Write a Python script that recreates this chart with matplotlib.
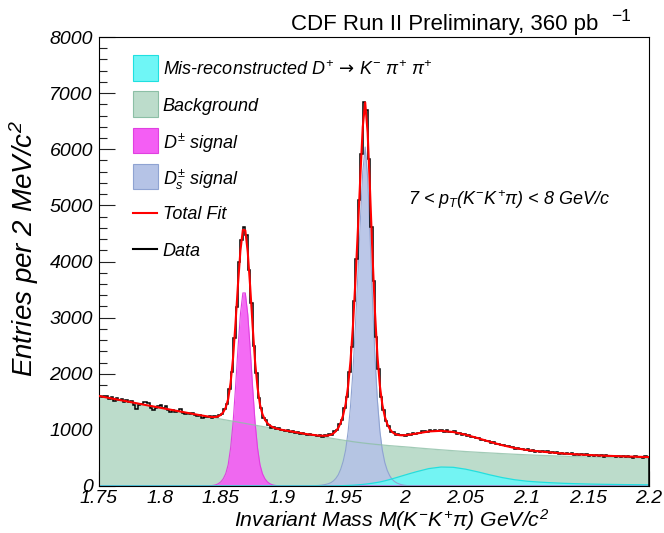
import numpy as np
import matplotlib
matplotlib.use("Agg")
import matplotlib.pyplot as plt
from matplotlib.patches import Rectangle
from matplotlib.lines import Line2D
from matplotlib.ticker import MultipleLocator, FixedLocator, FixedFormatter

plt.rcParams.update({
    'font.family': 'Liberation Sans',
    'mathtext.fontset': 'custom',
    'mathtext.it': 'Liberation Sans:italic',
    'mathtext.rm': 'Liberation Sans:italic',
    'mathtext.sf': 'Liberation Sans:italic',
    'mathtext.bf': 'DejaVu Sans',
    'axes.linewidth': 0.8,
})

# ── fit components, sampled finer around the two peaks ──────
fit_mass = np.round(np.concatenate([
    np.arange(1.75, 1.835, 0.01),
    np.arange(1.84, 1.9005, 0.002),
    [1.91, 1.92],
    np.arange(1.93, 2.0045, 0.002),
    np.arange(2.01, 2.2005, 0.01),
]), 3)

background = np.array(
    [1605, 1563, 1521, 1479, 1437, 1396, 1355, 1314, 1273]
    + [1233, 1225, 1217, 1209, 1201, 1193, 1185, 1177, 1169, 1162, 1154,
       1146, 1138, 1130, 1123, 1115, 1107, 1099, 1091, 1084, 1076, 1068,
       1061, 1053, 1046, 1038, 1030, 1023, 1015, 1008, 1000]
    + [962, 925]
    + [888, 881, 874, 866, 859, 852, 845, 838, 831, 824, 817, 810, 804,
       797, 790, 784, 778, 773, 767, 762, 757, 752, 748, 743, 739, 735,
       731, 727, 723, 719, 716, 712, 709, 705, 702, 699, 695, 692]
    + [680, 662, 645, 629, 614, 601, 589, 577, 566, 556, 547, 539, 531,
       524, 518, 512, 507, 502, 498, 494], dtype=float)

dplus_signal = np.array(
    [0] * 9
    + [3, 6, 12, 22, 42, 75, 130, 220, 380, 680, 1128, 1755, 2450, 3060,
       3440, 3440, 3060, 2450, 1755, 1128, 680, 380, 220, 130, 75, 42,
       22, 12, 6, 3, 0]
    + [0] * 2 + [0] * 38 + [0] * 20, dtype=float)

ds_signal = np.array(
    [0] * 9 + [0] * 31 + [0] * 2
    + [10, 15, 22, 30, 42, 60, 90, 135, 200, 300, 440, 640, 960, 1420,
       2050, 2850, 3750, 4700, 5600, 6040, 5500, 4450, 3300, 2300, 1520,
       980, 640, 420, 280, 185, 120, 80, 52, 35, 22, 14, 8, 5]
    + [0] * 20, dtype=float)

misreco = np.array(
    [0] * 9 + [0] * 31 + [0] * 2
    + [0, 0, 0, 1, 1, 2, 2, 3, 4, 5, 6, 8, 10, 12, 14, 17, 20, 24, 28, 33,
       38, 44, 50, 57, 64, 72, 82, 92, 103, 115, 127, 140, 153, 166, 179,
       192, 205, 218]
    + [255, 310, 338, 333, 300, 252, 198, 150, 112, 86, 70, 58, 48, 41,
       35, 31, 28, 25, 23, 21], dtype=float)

total_fit = background + dplus_signal + ds_signal + misreco

# ── data histogram, 2 MeV bins from 1.75 to 2.20 ────────────
bin_edges = np.linspace(1.75, 2.20, 226)
data_counts = np.array(
    [1611, 1578, 1609, 1606, 1548, 1594, 1516, 1572, 1524, 1551, 1497, 1539,
     1500, 1507, 1444, 1365, 1447, 1468, 1495, 1492, 1473, 1395, 1347, 1398,
     1420, 1436, 1383, 1425, 1346, 1323, 1360, 1321, 1338, 1364, 1301, 1283,
     1304, 1276, 1302, 1264, 1241, 1272, 1219, 1221, 1237]
    + [1250, 1212, 1245, 1221, 1262, 1280, 1372, 1460, 1720, 2030, 2640, 3190,
       3990, 4380, 4610, 4470, 3850, 3260, 2490, 2010, 1570, 1390, 1215, 1170,
       1085, 1040, 1060, 1010, 1035, 990]
    + [1005, 975, 1000, 962, 975, 948, 960, 930, 945, 920, 915, 935, 900,
       912, 890]
    + [910, 880, 905, 885, 920, 915, 975, 990, 1110, 1170, 1390, 1580, 2040,
       2480, 3290, 4050, 5100, 5920, 6840, 6700, 5830, 4620, 3650, 2660, 2080,
       1580, 1360, 1150, 1075, 970, 955, 905, 925, 900, 915, 890, 930]
    + [905, 945, 922, 950, 938, 972, 985, 958, 1002, 986,
       1005, 978, 998, 1004, 968, 990, 962, 955, 972, 930,
       948, 912, 930, 885, 902, 872, 878, 848, 858, 815,
       826, 800, 806, 772, 784, 742, 756, 722, 738, 706,
       712, 688, 698, 668, 682, 652, 668, 640, 652, 628,
       642, 612, 632, 608, 626, 598, 618, 594, 606, 582,
       602, 574, 590, 566, 582, 562, 582, 556, 572, 552,
       566, 548, 568, 542, 556, 536, 558, 538, 550, 522,
       544, 528, 540, 528, 518, 538, 522, 534, 516, 530,
       522, 506, 528, 514, 524, 502, 528, 510], dtype=float)

x_ticks = [1.75, 1.8, 1.85, 1.9, 1.95, 2.0, 2.05, 2.1, 2.15, 2.2]
x_tick_labels = ['1.75', '1.8', '1.85', '1.9', '1.95', '2', '2.05', '2.1', '2.15', '2.2']
y_ticks = [0, 1000, 2000, 3000, 4000, 5000, 6000, 7000, 8000]

# colours
c_mis, e_mis = '#6ff6f6', '#20e0e0'
c_bkg, e_bkg = '#bcdccb', '#8cbfa6'
c_dp, e_dp = '#f45ef4', '#e040e0'
c_ds, e_ds = '#b5c3e6', '#8fa3d2'

W, H = 664, 533

# ── figure ──────────────────────────────────────────────────
fig = plt.figure(figsize=(W / 100, H / 100), dpi=100)
ax = fig.add_axes([98.5 / W, 47 / H, 550.5 / W, 449 / H])
ax.set_axisbelow(True)

ax.fill_between(fit_mass, background, color=c_bkg, lw=0, zorder=1)
ax.fill_between(fit_mass, dplus_signal, color=c_dp, alpha=0.92, lw=0, zorder=2)
ax.fill_between(fit_mass, ds_signal, color=c_ds, alpha=0.92, lw=0, zorder=2)
ax.fill_between(fit_mass, misreco, color=c_mis, alpha=0.95, lw=0, zorder=2)
ax.plot(fit_mass, background, color=e_bkg, lw=0.9, alpha=0.8, zorder=2.6)
ax.plot(fit_mass, dplus_signal, color=e_dp, lw=0.8, zorder=2.5)
ax.plot(fit_mass, ds_signal, color=e_ds, lw=0.8, zorder=2.5)
ax.plot(fit_mass, misreco, color=e_mis, lw=0.9, zorder=2.5)

ax.stairs(data_counts, bin_edges, color='black', lw=1.1, zorder=3)
ax.plot(fit_mass, total_fit, color='#ff0000', lw=1.5, zorder=4)

ax.set_xlim(1.75, 2.2)
ax.set_ylim(0, 8000)

ax.xaxis.set_major_locator(FixedLocator(x_ticks))
ax.xaxis.set_major_formatter(FixedFormatter(x_tick_labels))
ax.xaxis.set_minor_locator(MultipleLocator(0.01))
ax.yaxis.set_major_locator(FixedLocator(y_ticks))
ax.yaxis.set_minor_locator(MultipleLocator(200))
ax.tick_params(which='both', direction='in', top=False, right=False,
               labelsize=14, width=0.8, color='#222222')
ax.tick_params(axis='y', which='major', length=11.5, pad=4)
ax.tick_params(axis='y', which='minor', length=5.8)
ax.tick_params(axis='x', which='major', length=10.5, pad=3)
ax.tick_params(axis='x', which='minor', length=5.2)
for lab in ax.get_xticklabels() + ax.get_yticklabels():
    lab.set_fontstyle('italic')

ax.set_xlabel(r'Invariant Mass M($K^{-}K^{+}\pi$) GeV/$c^{2}$',
              fontsize=15.3, fontstyle='italic')
ax.xaxis.set_label_coords(0.532, -0.046)
ax.set_ylabel(r'Entries per 2 MeV/$c^{2}$', fontsize=20, fontstyle='italic')
ax.yaxis.set_label_coords(-0.104, 0.53)

# header
fig.text(598 / W, 1 - 30 / H, 'CDF Run II Preliminary, 360 pb',
         fontsize=16, ha='right', va='baseline')
fig.text(611 / W, 1 - 21 / H, '\u22121', fontsize=12.5,
         ha='left', va='baseline')

ax.text(0.563, 0.637, r'7 < $p_{T}(K^{-}K^{+}\pi)$ < 8 GeV/c',
        transform=ax.transAxes, fontsize=13, fontstyle='italic',
        ha='left', va='center')

# legend, laid out by hand like the ROOT TLegend
legend_rows = [
    ('patch', c_mis, e_mis,
     r'Mis-reconstructed $D^{+}\,\mathbf{\rightarrow}\,K^{-}\ \pi^{+}\ \pi^{+}$'),
    ('patch', c_bkg, e_bkg, 'Background'),
    ('patch', c_dp, e_dp, r'$D^{\pm}$ signal'),
    ('patch', c_ds, e_ds, r'$D_{s}^{\pm}$ signal'),
    ('line', '#ff0000', None, 'Total Fit'),
    ('line', 'black', None, 'Data'),
]
for i, (kind, col, edge, text) in enumerate(legend_rows):
    yc = 67.8 + 36.3 * i
    if kind == 'patch':
        fig.add_artist(Rectangle((133 / W, 1 - (yc + 12.8) / H), 25 / W, 25.6 / H,
                                 transform=fig.transFigure, facecolor=col,
                                 edgecolor=edge, lw=0.8))
    else:
        fig.add_artist(Line2D([133 / W, 157 / W], [1 - yc / H, 1 - yc / H],
                              transform=fig.transFigure, color=col, lw=1.5))
    fig.text(162.7 / W, 1 - yc / H, text, fontsize=13, fontstyle='italic',
             ha='left', va='center_baseline')

fig.savefig('out.png', dpi=100)
